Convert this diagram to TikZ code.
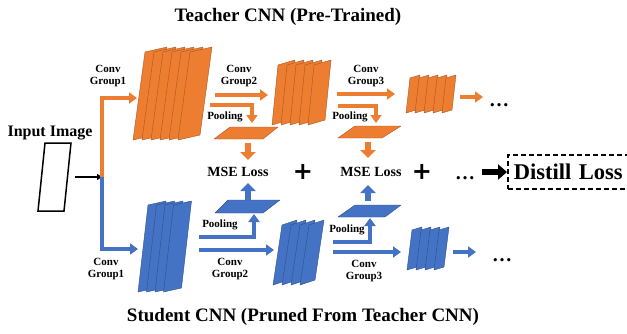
\documentclass[tikz,border=0pt]{standalone}
\usepackage{fontspec}
\setmainfont{Liberation Serif}
\newfontfamily\plusfont{DejaVu Sans}
\usetikzlibrary{arrows.meta}
\definecolor{torange}{HTML}{ED7D31}
\definecolor{sblue}{HTML}{4472C4}
\begin{document}
\begin{tikzpicture}[x=1pt,y=-1pt,
  tslab/.style={fill=torange,draw=torange!70!black,line width=0.4pt,line join=round},
  sslab/.style={fill=sblue,draw=sblue!70!black,line width=0.4pt,line join=round},
  tarr/.style={draw=torange,line width=3.5pt,-{Triangle[length=8pt,width=11pt]}},
  sarr/.style={draw=sblue,line width=3.5pt,-{Triangle[length=8pt,width=11pt]}},
  tblk/.style={draw=torange,line width=6pt,-{Triangle[length=8pt,width=15pt]}},
  sblk/.style={draw=sblue,line width=6pt,-{Triangle[length=8pt,width=15pt]}},
  lbl/.style={font=\fontsize{11}{12}\selectfont\bfseries,align=center,inner sep=0pt},
  title/.style={font=\fontsize{19}{22}\selectfont\bfseries,inner sep=0pt},
  loss/.style={font=\fontsize{14}{16}\selectfont\bfseries,inner sep=0pt},
  sym/.style={font=\plusfont\fontsize{24}{26}\selectfont\bfseries,inner sep=0pt},
  dots/.style={font=\fontsize{20}{22}\selectfont\bfseries,inner sep=0pt,anchor=base}]
\useasboundingbox (0,0) rectangle (627,333);

% titles
\node[title] (tt) at (288,17) {Teacher CNN (Pre-Trained)};
\node[title] (st) at (303,317) {Student CNN (Pruned From Teacher CNN)};

% input
\node[font=\fontsize{16}{18}\selectfont\bfseries,inner sep=0pt] (in) at (50,133) {Input Image};
\draw[line width=1.5pt] (45,143) -- (71,143) -- (64,211) -- (38,211) -- cycle;
\coordinate (img) at (75,177);
\coordinate (jn) at (102,177);
\draw[line width=1.2pt,-{Triangle[length=5pt,width=6pt]}] (img) -- (jn);

% teacher stacks
\foreach \i in {0,...,5}
  \draw[tslab] ({133+9*\i},140) -- ++(22,-5) -- ++(12,-88) -- ++(-22,5) -- cycle;
\foreach \i in {0,...,4}
  \draw[tslab] ({272+9*\i},125) -- ++(17,-5) -- ++(6,-60) -- ++(-17,5) -- cycle;
\foreach \i in {0,...,4}
  \draw[tslab] ({406+9*\i},113) -- ++(10,-3) -- ++(4,-35) -- ++(-10,3) -- cycle;
\draw[tslab] (214,139) -- (263,139) -- (278,127) -- (230,127) -- cycle;
\draw[tslab] (338,138) -- (382,138) -- (401,126) -- (355,126) -- cycle;

% student stacks
\foreach \i in {0,...,3}
  \draw[sslab] ({138+8.5*\i},292) -- ++(18,-4) -- ++(10,-87) -- ++(-18,4) -- cycle;
\foreach \i in {0,...,3}
  \draw[sslab] ({273+9*\i},285) -- ++(15,-5) -- ++(9,-60) -- ++(-15,5) -- cycle;
\foreach \i in {0,...,3}
  \draw[sslab] ({407+9*\i},270) -- ++(10,-3) -- ++(5,-40) -- ++(-10,3) -- cycle;
\draw[sslab] (215,213) -- (263,213) -- (280,200) -- (228,200) -- cycle;
\draw[sslab] (338,217) -- (385,217) -- (401,205) -- (355,205) -- cycle;

% teacher arrows
\coordinate (t1) at (137,98);
\coordinate (t2a) at (215,95);  \coordinate (t2b) at (268,95);
\coordinate (tp1a) at (210,105); \coordinate (tp1b) at (252,123);
\coordinate (t3a) at (337,94);  \coordinate (t3b) at (395,94);
\coordinate (tp2a) at (338,106); \coordinate (tp2b) at (376,123);
\coordinate (t4a) at (460,97);  \coordinate (t4b) at (483,97);
\draw[tarr] (jn) |- (t1);
\draw[tarr] (t2a) -- (t2b);
\draw[tarr] (tp1a) -| (tp1b);
\draw[tarr] (t3a) -- (t3b);
\draw[tarr] (tp2a) -| (tp2b);
\draw[tarr] (t4a) -- (t4b);

% student arrows
\coordinate (s1) at (138,249);
\coordinate (s2a) at (199,250); \coordinate (s2b) at (274,250);
\coordinate (sp1a) at (199,237); \coordinate (sp1b) at (254,214);
\coordinate (s3a) at (333,252); \coordinate (s3b) at (401,252);
\coordinate (sp2a) at (333,242); \coordinate (sp2b) at (370,218);
\coordinate (s4a) at (453,252); \coordinate (s4b) at (476,252);
\draw[sarr] (jn) |- (s1);
\draw[sarr] (s2a) -- (s2b);
\draw[sarr] (sp1a) -| (sp1b);
\draw[sarr] (s3a) -- (s3b);
\draw[sarr] (sp2a) -| (sp2b);
\draw[sarr] (s4a) -- (s4b);

% labels
\node[lbl] (tc1) at (108,76) {Conv\\Group1};
\node[lbl] (tc2) at (239,76) {Conv\\Group2};
\node[lbl] (tc3) at (366,76) {Conv\\Group3};
\node[lbl] (tpl1) at (225,117) {Pooling};
\node[lbl] (tpl2) at (350,117) {Pooling};
\node[lbl] (sc1) at (106,269) {Conv\\Group1};
\node[lbl] (sc2) at (230,269) {Conv\\Group2};
\node[lbl] (sc3) at (364,271) {Conv\\Group3};
\node[lbl] (spl1) at (220,225) {Pooling};
\node[lbl] (spl2) at (347,230) {Pooling};
\node[dots] (td) at (499,106) {…};
\node[dots] (sd) at (502,261) {…};

% losses
\node[loss] (m1) at (238,172) {MSE Loss};
\node[loss] (m2) at (371,172) {MSE Loss};
\node[sym] (p1) at (303,172) {+};
\node[sym] (p2) at (422,172) {+};
\node[dots] (md) at (465,179) {…};
\node[draw,dashed,dash pattern=on 5pt off 3pt,line width=1.6pt,anchor=west,
  minimum height=34pt,text width=112pt,inner xsep=6pt,align=left,
  font=\fontsize{22.5}{24}\selectfont\bfseries] (dl) at (507,172) {Distill Loss};
\coordinate (da) at (482,172);
\draw[line width=6pt,-{Triangle[length=9pt,width=15pt]}] (da) -- (dl.west);
\coordinate (tb1a) at (248,143); \coordinate (tb1b) at (248,160);
\coordinate (tb2a) at (368,142); \coordinate (tb2b) at (368,158);
\coordinate (sb1a) at (248,200); \coordinate (sb1b) at (248,183);
\coordinate (sb2a) at (368,201); \coordinate (sb2b) at (368,185);
\draw[tblk] (tb1a) -- (tb1b);
\draw[tblk] (tb2a) -- (tb2b);
\draw[sblk] (sb1a) -- (sb1b);
\draw[sblk] (sb2a) -- (sb2b);
\end{tikzpicture}
\end{document}
